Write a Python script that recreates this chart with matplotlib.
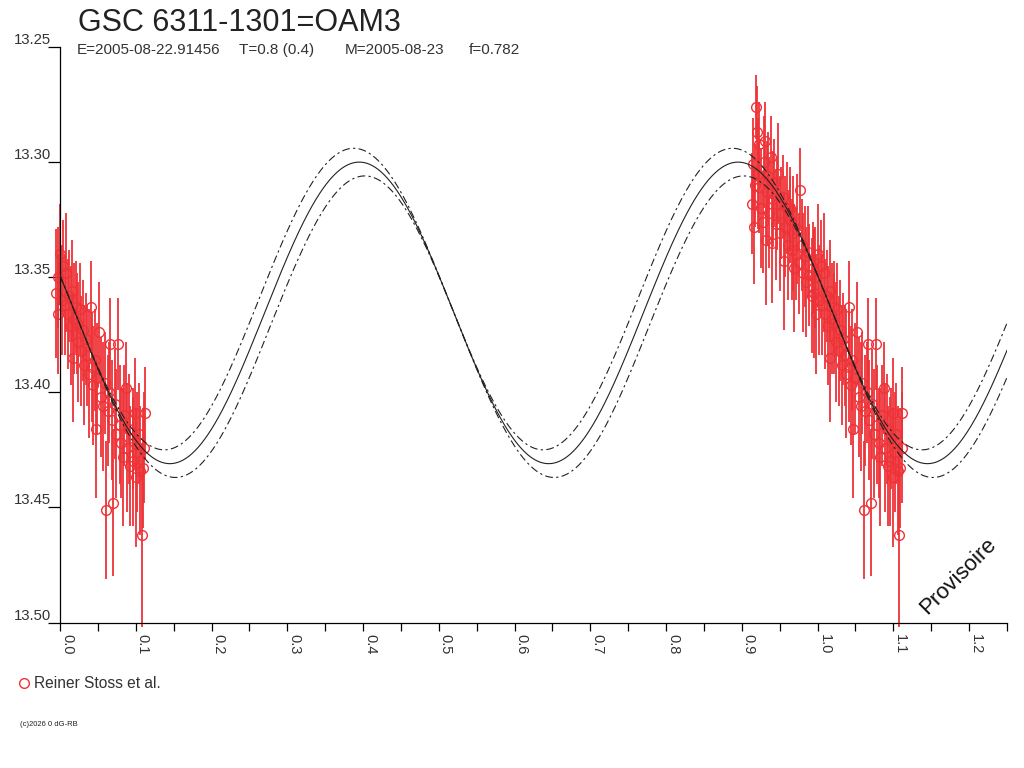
import numpy as np
import matplotlib.pyplot as plt
from matplotlib.lines import Line2D

plt.rcParams['font.family'] = ['Liberation Sans', 'DejaVu Sans']

# observations (phase, magnitude, error) - Reiner Stoss et al.
phase = [0.914, 0.915, 0.916, 0.918, 0.919, 0.920, 0.921, 0.922, 0.923, 0.925,
         0.928, 0.929, 0.930, 0.932, 0.933, 0.934, 0.936, 0.938, 0.940, 0.941,
         0.943, 0.945, 0.946, 0.948, 0.950, 0.952, 0.954, 0.955, 0.957, 0.959,
         0.961, 0.963, 0.964, 0.966, 0.968, 0.969, 0.971, 0.973, 0.975, 0.977,
         0.979, 0.981, 0.983, 0.985, 0.987, 0.989, 0.992, 0.994, 0.995, 0.997,
         0.998, 1.000, 1.002, 1.004, 1.006, 1.008, 1.010, 1.012, 1.014, 1.016,
         1.017, 1.019, 1.021, 1.022, 1.024, 1.026, 1.028, 1.030, 1.032, 1.034,
         1.036, 1.038, 1.041, 1.042, 1.044, 1.046, 1.047, 1.049, 1.052, 1.054,
         1.057, 1.059, 1.061, 1.063, 1.065, 1.066, 1.068, 1.070, 1.072, 1.074,
         1.077, 1.079, 1.081, 1.083, 1.085, 1.087, 1.089, 1.091, 1.093, 1.096,
         1.097, 1.099, 1.100, 1.102, 1.104, 1.106, 1.108, 1.109, 1.111, 1.112]
mag = [13.318, 13.301, 13.328, 13.310, 13.276, 13.287, 13.305, 13.311, 13.292, 13.320,
       13.326, 13.300, 13.291, 13.334, 13.313, 13.306, 13.322, 13.298, 13.335, 13.316,
       13.309, 13.327, 13.318, 13.305, 13.331, 13.322, 13.315, 13.343, 13.328, 13.320,
       13.336, 13.325, 13.320, 13.338, 13.331, 13.346, 13.340, 13.329, 13.344, 13.312,
       13.336, 13.348, 13.341, 13.352, 13.339, 13.349, 13.358, 13.346, 13.357, 13.350,
       13.366, 13.340, 13.360, 13.345, 13.362, 13.348, 13.366, 13.358, 13.371, 13.356,
       13.385, 13.368, 13.363, 13.370, 13.378, 13.364, 13.382, 13.373, 13.388, 13.377,
       13.384, 13.392, 13.363, 13.389, 13.397, 13.386, 13.416, 13.394, 13.374, 13.402,
       13.406, 13.396, 13.451, 13.408, 13.400, 13.379, 13.412, 13.448, 13.405, 13.418,
       13.379, 13.414, 13.422, 13.428, 13.410, 13.398, 13.424, 13.416, 13.432, 13.430,
       13.420, 13.409, 13.437, 13.426, 13.418, 13.434, 13.462, 13.433, 13.424, 13.409]
err = [0.022, 0.020, 0.025, 0.018, 0.014, 0.020, 0.024, 0.020, 0.018, 0.026,
       0.022, 0.020, 0.017, 0.028, 0.022, 0.019, 0.024, 0.018, 0.026, 0.021,
       0.019, 0.024, 0.020, 0.022, 0.025, 0.020, 0.018, 0.030, 0.022, 0.020,
       0.024, 0.019, 0.018, 0.022, 0.025, 0.028, 0.020, 0.024, 0.022, 0.018,
       0.020, 0.026, 0.022, 0.024, 0.020, 0.022, 0.025, 0.020, 0.028, 0.022,
       0.026, 0.022, 0.024, 0.020, 0.022, 0.026, 0.024, 0.020, 0.026, 0.022,
       0.028, 0.024, 0.020, 0.022, 0.026, 0.020, 0.024, 0.022, 0.026, 0.020,
       0.022, 0.028, 0.020, 0.024, 0.026, 0.022, 0.030, 0.024, 0.022, 0.026,
       0.028, 0.022, 0.030, 0.024, 0.022, 0.020, 0.026, 0.032, 0.024, 0.028,
       0.020, 0.026, 0.024, 0.030, 0.022, 0.020, 0.028, 0.024, 0.026, 0.028,
       0.022, 0.024, 0.030, 0.026, 0.022, 0.028, 0.040, 0.026, 0.024, 0.020]

# fitted light curve (two waves per phase unit) and its +/- envelopes
fit_mean = 13.3655
fit_amp = 0.0655
fit_min_phase = 0.645
fit_shift = 0.0073
fit_offset = 0.006

x_ticks = [0.0, 0.05, 0.1, 0.15, 0.2, 0.25, 0.3, 0.35, 0.4, 0.45, 0.5, 0.55, 0.6,
           0.65, 0.7, 0.75, 0.8, 0.85, 0.9, 0.95, 1.0, 1.05, 1.1, 1.15, 1.2, 1.25]
x_labels = ['0.0', '', '0.1', '', '0.2', '', '0.3', '', '0.4', '', '0.5', '', '0.6',
            '', '0.7', '', '0.8', '', '0.9', '', '1.0', '', '1.1', '', '1.2', '']
y_ticks = [13.25, 13.30, 13.35, 13.40, 13.45, 13.50]
y_labels = ['13.25', '13.30', '13.35', '13.40', '13.45', '13.50']

red = '#ee3338'
ink = '#222222'


def model(x):
    return fit_mean + fit_amp * np.cos(4 * np.pi * (x - fit_min_phase))


fig = plt.figure(figsize=(10.24, 7.68), dpi=100)
ax = fig.add_axes([60 / 1024, 1 - 622.5 / 768, 947 / 1024, 575.5 / 768])

# data, plus the copy shifted by one cycle
ph = np.array(phase)
m = np.array(mag)
e = np.array(err)
keep = ph - 1 >= -0.006
xs = np.concatenate([ph, ph[keep] - 1])
ys = np.concatenate([m, m[keep]])
es = np.concatenate([e, e[keep]])
eb = ax.errorbar(xs, ys, yerr=es, fmt='o', mfc='none', mec=red, ms=7, mew=1,
                 ecolor=red, elinewidth=1.3, capsize=0, zorder=2)
for art in eb.lines[2]:
    art.set_clip_on(False)
eb.lines[0].set_clip_on(False)

xx = np.linspace(0, 1.25, 1200)
ax.plot(xx, model(xx), color=ink, lw=0.8, zorder=3)
ax.plot(xx, model(xx + fit_shift) - fit_offset, color=ink, lw=0.8,
        ls=(0, (7, 3, 2, 3)), zorder=3)
ax.plot(xx, model(xx - fit_shift) + fit_offset, color=ink, lw=0.8,
        ls=(0, (7, 3, 2, 3)), zorder=3)

ax.set_xlim(0, 1.25)
ax.set_ylim(13.50, 13.25)
for s in ['top', 'right']:
    ax.spines[s].set_visible(False)
for s in ['left', 'bottom']:
    ax.spines[s].set_linewidth(0.9)
    ax.spines[s].set_color('black')

ax.set_xticks(x_ticks)
ax.set_xticklabels(x_labels)
ax.set_yticks(y_ticks)
ax.set_yticklabels(y_labels)
ax.tick_params(axis='x', direction='out', length=6, width=0.9, pad=2,
               labelsize=10.5, labelcolor='#333333', labelrotation=270)
ax.tick_params(axis='y', direction='out', length=8.6, width=0.9, pad=-2.0,
               labelsize=10.7, labelcolor='#333333')
plt.setp(ax.get_xticklabels(), ha='left', va='top')
plt.setp(ax.get_yticklabels(), va='bottom')

# header
fig.text(78 / 1024, 1 - 31 / 768, 'GSC 6311-1301=OAM3', fontsize=22,
         color=ink, va='baseline')
sub_y = 1 - 54 / 768
fig.text(77 / 1024, sub_y, 'E=2005-08-22.91456', fontsize=11, color='#333333', va='baseline')
fig.text(239 / 1024, sub_y, 'T=0.8 (0.4)', fontsize=11, color='#333333', va='baseline')
fig.text(345 / 1024, sub_y, 'M=2005-08-23', fontsize=11, color='#333333', va='baseline')
fig.text(469 / 1024, sub_y, 'f=0.782', fontsize=11, color='#333333', va='baseline')

# legend
fig.add_artist(Line2D([24 / 1024], [1 - 683 / 768], transform=fig.transFigure,
                      marker='o', ms=7, mfc='none', mec=red, mew=1, ls='none'))
fig.text(34 / 1024, 1 - 683 / 768, 'Reiner Stoss et al.', fontsize=11.2,
         color='#333333', va='center')

fig.text(20 / 1024, 1 - 725 / 768, '(c)2026 0 dG-RB', fontsize=5.5,
         color=ink, va='center')
fig.text(958 / 1024, 1 - 576 / 768, 'Provisoire', fontsize=16, color='#111111',
         rotation=45, ha='center', va='center')

fig.savefig('out.png', dpi=100)
